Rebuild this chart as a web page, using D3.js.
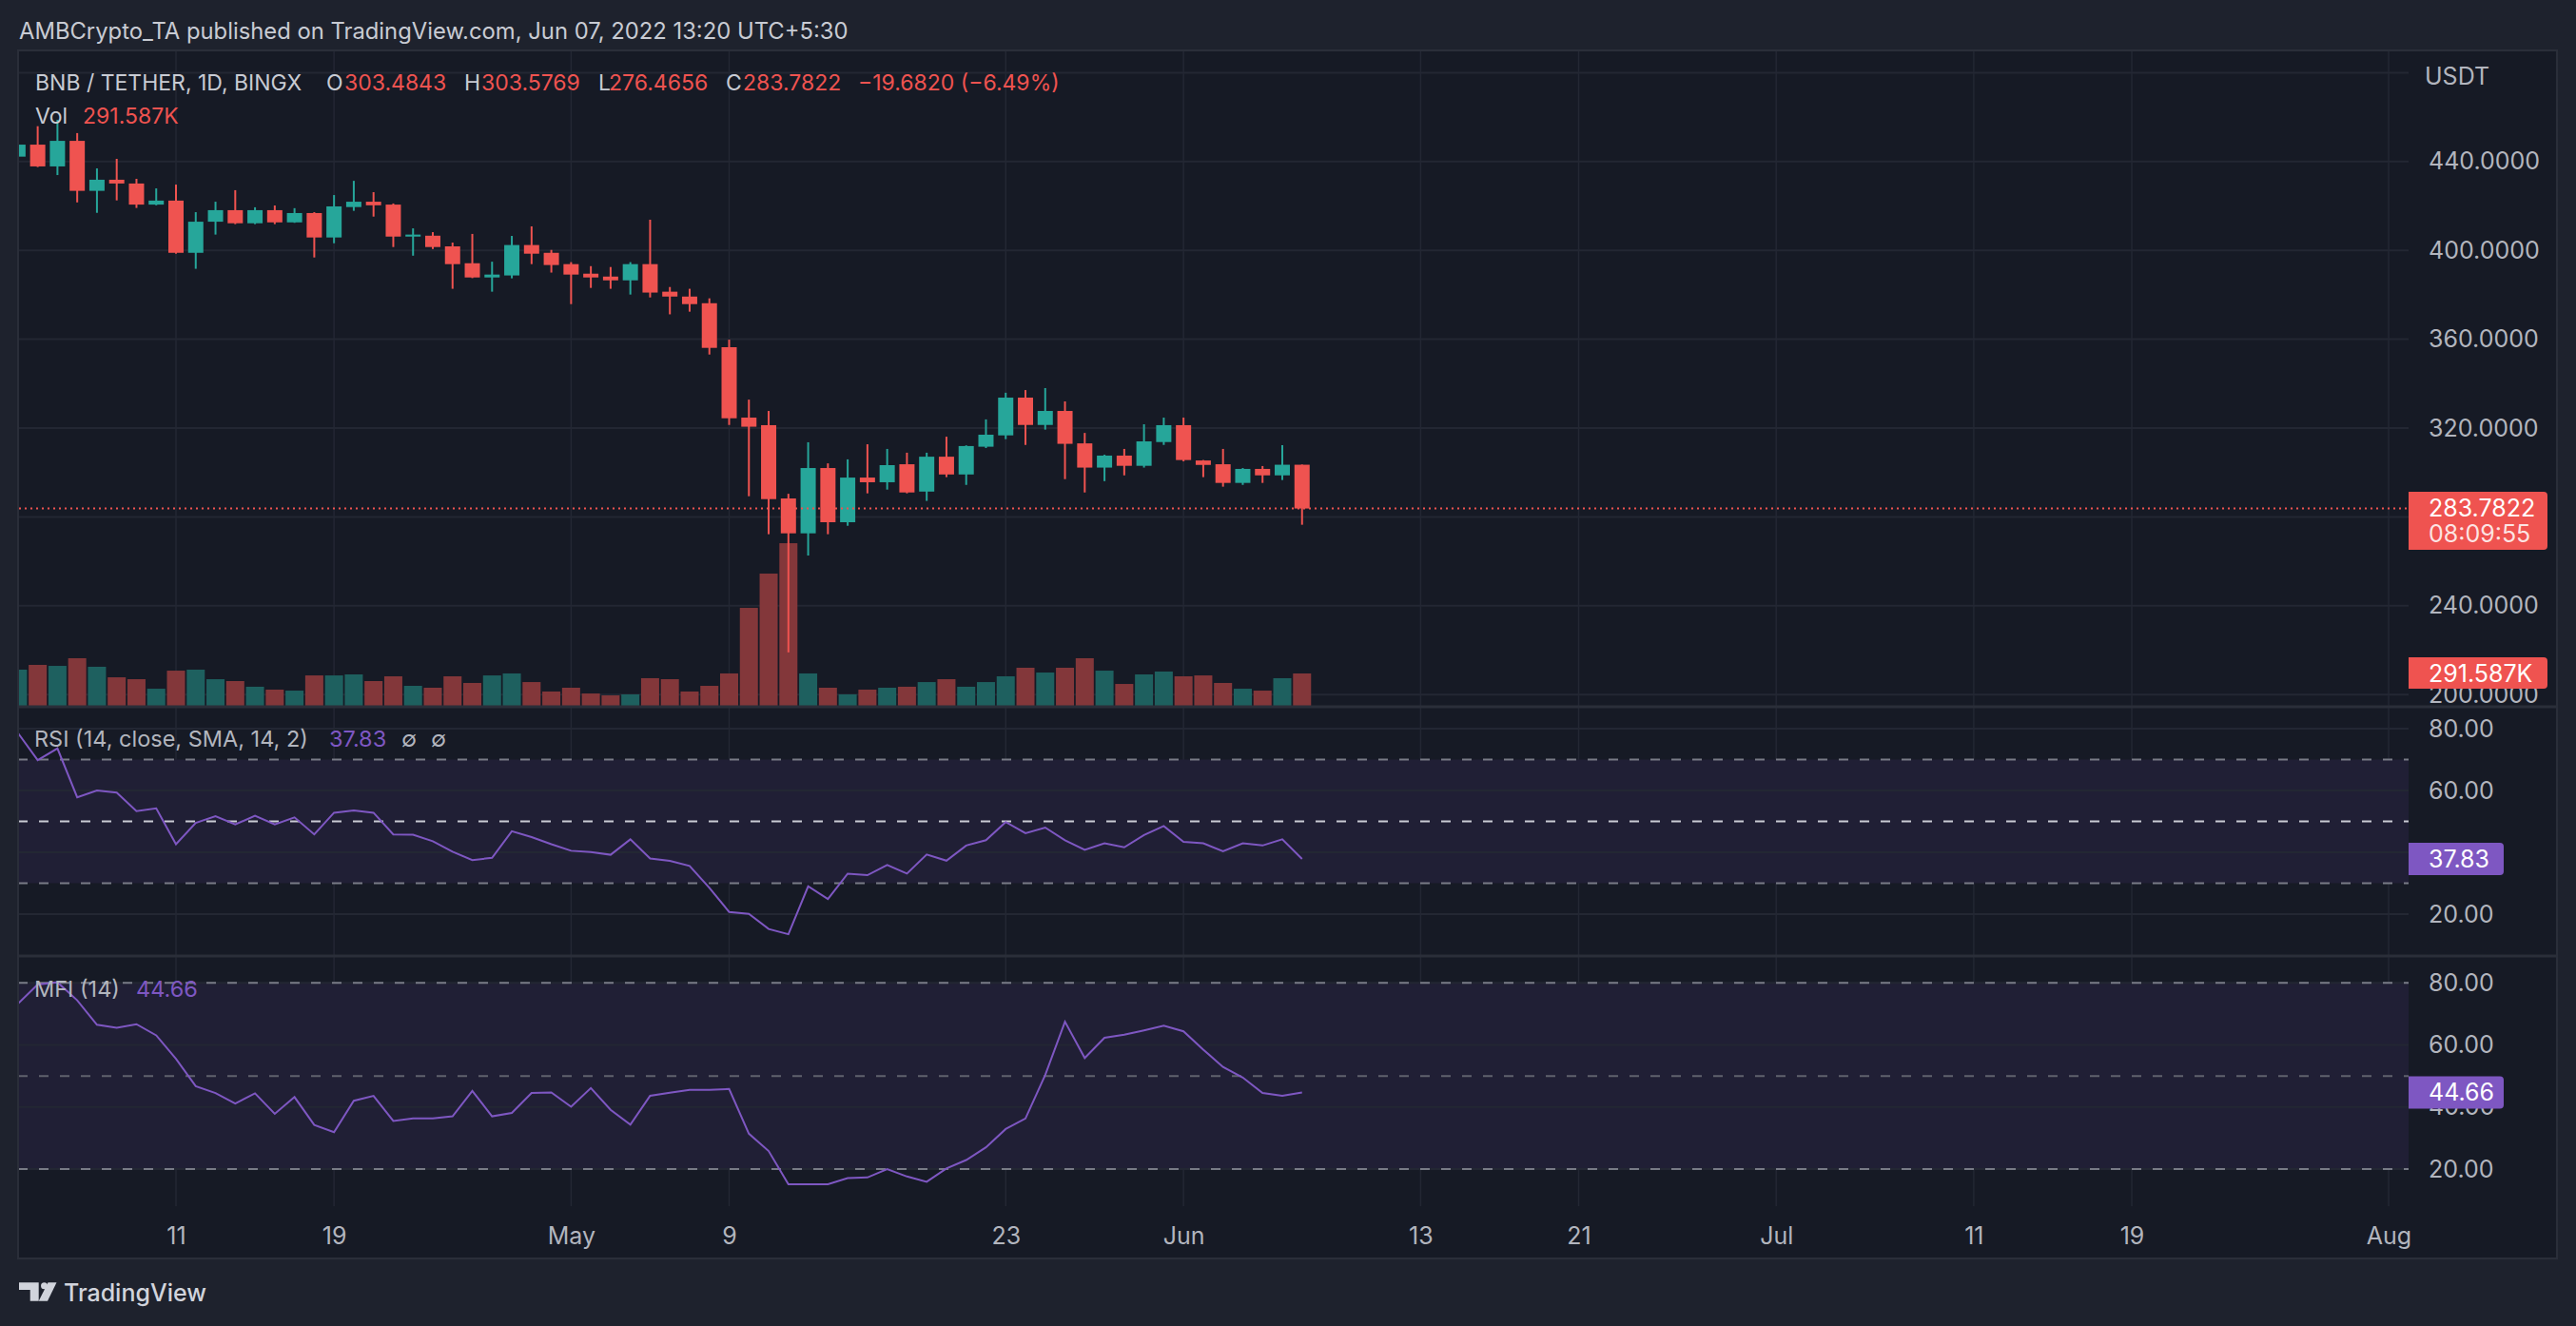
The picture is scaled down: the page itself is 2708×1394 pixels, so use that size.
<!DOCTYPE html>
<html><head><meta charset="utf-8">
<script src="https://cdn.jsdelivr.net/npm/d3@7"></script>
<style>html,body{margin:0;padding:0;background:#1e222d;overflow:hidden}svg text{font-family:Inter,"Noto Sans",sans-serif}</style>
</head><body><svg id="c" width="2708" height="1394"></svg>
<script>
// ---------- DATA ----------
const firstDay = "2022-04-03";
const open  = [442.2,447.6,437.8,449.3,426.8,431.8,430.1,420.6,422.4,398.9,412.9,418.1,412.2,418.1,412.6,416.8,405.8,419.5,421.9,420.6,406.2,406.6,401.8,394.2,387.8,388.7,402.4,398.9,393.8,389.5,388.2,386.5,393.8,381.4,379.2,376.2,356.4,324.7,321.3,288.3,272.6,302.0,277.6,297.7,295.6,303.7,291.4,307.1,299.1,311.6,316.7,333.7,321.4,327.7,313.1,302.2,307.6,303.0,313.7,321.3,305.4,303.7,295.3,301.6,298.7,303.4843];
const high  = [449.0,455.9,458.8,452.8,436.9,441.2,432.2,427.9,429.6,417.2,421.9,427.1,419.4,420.2,419.0,417.2,424.9,431.3,426.2,421.1,409.9,408.2,403.5,407.4,394.9,406.5,410.8,400.2,394.7,392.9,392.5,394.7,413.8,383.5,382.7,378.4,359.8,332.8,327.7,290.4,313.6,304.1,305.9,312.7,310.6,308.9,308.9,316.1,312.2,323.9,335.9,337.1,338.0,332.0,317.8,308.0,310.6,321.7,324.7,324.7,305.6,310.6,302.0,302.9,312.3,303.5769];
const low   = [440.5,437.5,433.9,421.6,416.9,422.5,419.1,420.3,398.5,391.7,407.1,411.8,411.8,411.8,412.4,396.8,403.2,417.8,415.2,401.5,397.6,400.6,382.7,387.5,381.4,387.4,393.8,390.0,375.8,383.1,382.7,380.1,378.8,371.2,372.4,353.1,321.4,289.3,272.2,219.0,262.6,272.2,276.0,290.6,292.3,290.6,287.2,297.9,294.4,311.0,315.0,312.4,319.3,297.0,291.0,296.1,298.7,302.2,312.4,305.0,297.9,293.6,294.4,295.3,296.6,276.4656];
const close = [447.6,437.8,449.3,426.8,431.8,430.1,420.6,422.4,398.9,412.9,418.1,412.2,418.1,412.6,416.8,405.8,419.8,421.9,420.3,406.2,407.1,401.5,393.8,387.8,389.1,402.4,398.5,393.4,389.1,387.8,386.5,393.8,381.0,379.2,375.8,356.1,324.4,320.6,288.0,272.6,302.0,277.6,297.7,295.6,303.3,291.0,307.1,299.1,311.9,317.0,333.7,321.4,327.7,312.9,302.2,307.6,303.0,314.0,321.3,305.6,303.4,295.3,301.6,298.7,303.4843,283.7822];
// volume in thousands
const volume = [326,369,360,429,352,257,240,154,317,326,240,223,172,146,137,274,274,283,223,266,180,163,266,206,274,292,214,129,163,111,94,103,249,240,129,180,292,883,1192,1466,292,163,103,146,163,172,214,240,172,214,266,343,300,343,429,317,197,283,309,266,274,206,154,137,249,291.587];
const rsi = [78.6,69.8,73.6,57.8,60,59.3,53.3,54.2,42.6,49.5,51.7,49,51.8,49,51.3,45.8,52.8,53.5,52.8,45.8,45.7,43.6,40.2,37.5,38.2,46.8,44.9,42.6,40.5,40.1,39.2,44.2,38,37.2,35.6,28.5,20.7,20.1,15.2,13.5,29,24.9,33.1,32.6,35.9,33.1,39.3,37.3,42.2,43.9,49.8,46.2,48,43.9,40.8,42.9,41.6,45.6,48.5,43.4,42.9,40.3,42.9,42.2,44.2,37.83];
const mfi = [73.3,79.5,80.2,74.4,66.5,65.5,66.7,63.1,55.5,46.7,44.5,41.1,44.4,37.8,43.2,34.2,31.9,42,43.6,35.5,36.3,36.3,37,45.2,37,38.1,44.5,44.7,40.1,46.1,39.1,34.3,43.6,44.6,45.5,45.5,45.8,31.4,25.8,15.1,15.1,15.1,17.1,17.3,20,17.6,15.9,20.2,22.9,27,32.9,36.3,50.3,67.5,55.8,62.3,63.3,64.7,66.2,64.4,58.5,52.9,49.5,44.5,43.6,44.66];
const xTickDates  = ["2022-04-11","2022-04-19","2022-05-01","2022-05-09","2022-05-23","2022-06-01","2022-06-13","2022-06-21","2022-07-01","2022-07-11","2022-07-19","2022-08-01"];
const xTickLabels = ["11","19","May","9","23","Jun","13","21","Jul","11","19","Aug"];
const priceTicks = [200,240,280,320,360,400,440,480];
const priceLabels = [200,240,320,360,400,440];
const oscTicks = [20,40,60,80];
const rsiLabels = [20,60,80];
const mfiLabels = [20,40,60,80];
const rsiBands = [70,50,30];
const mfiBands = [80,50,20];

// ---------- SETUP ----------
const W=2708,H=1394;
const C={bg:"#1e222d",pane:"#161a25",grid:"#232733",sep:"#2a2e39",text:"#b2b5be",head:"#c8cbd3",up:"#26a69a",down:"#ef5350",upVol:"#1e605f",downVol:"#83373a",purple:"#7e57c2",band:"#201f35"};
const svg=d3.select("#c");
const parse=d3.utcParse("%Y-%m-%d");
const start=parse(firstDay);
const dates=close.map((_,i)=>d3.utcDay.offset(start,i));
const L=19,R=2688,AX=2532,T=53,B=1323;

const x=d3.scaleUtc().domain([parse("2022-04-11"),parse("2022-08-01")]).range([185,2511]);
const day=x(parse("2022-04-12"))-x(parse("2022-04-11"));
const y=d3.scaleLinear().domain([200,440]).range([730.2,169.8]);
const yv=d3.scaleLinear().domain([0,291.587]).range([742,708]);
const yr=d3.scaleLinear().domain([20,80]).range([961,766]);
const ym=d3.scaleLinear().domain([20,80]).range([1229,1033.3]);

svg.append("rect").attr("width",W).attr("height",H).attr("fill",C.bg);
svg.append("rect").attr("x",L).attr("y",T).attr("width",R-L).attr("height",B-T).attr("fill",C.pane);

const defs=svg.append("defs");
defs.append("clipPath").attr("id","plot").append("rect").attr("x",20).attr("y",T).attr("width",AX-20).attr("height",1268-T);

// ---------- GRID ----------
const grid=svg.append("g");
grid.selectAll("line.v").data(xTickDates.map(parse)).join("line")
  .attr("x1",d=>x(d)).attr("x2",d=>x(d)).attr("y1",T).attr("y2",1268)
  .attr("stroke",C.grid).attr("stroke-width",1.5);
grid.selectAll("line.hp").data(priceTicks).join("line")
  .attr("x1",L).attr("x2",AX).attr("y1",d=>y(d)).attr("y2",d=>y(d))
  .attr("stroke",C.grid).attr("stroke-width",2);

// RSI / MFI band fills
svg.append("rect").attr("x",L).attr("width",AX-L).attr("y",yr(70)).attr("height",yr(30)-yr(70)).attr("fill",C.band);
svg.append("rect").attr("x",L).attr("width",AX-L).attr("y",ym(80)).attr("height",ym(20)-ym(80)).attr("fill",C.band);
[yr,ym].forEach(s=>{
  svg.append("g").selectAll("line").data(oscTicks).join("line")
   .attr("x1",L).attr("x2",AX).attr("y1",d=>s(d)).attr("y2",d=>s(d))
   .attr("stroke",C.grid).attr("stroke-width",2);
});
svg.append("g").selectAll("line").data(rsiBands).join("line")
  .attr("x1",L).attr("x2",AX).attr("y1",d=>yr(d)).attr("y2",d=>yr(d))
  .attr("stroke",d=>d===50?"#c9cbd3":"#787b86").attr("stroke-width",2).attr("stroke-dasharray","10 12");
svg.append("g").selectAll("line").data(mfiBands).join("line")
  .attr("x1",L).attr("x2",AX).attr("y1",d=>ym(d)).attr("y2",d=>ym(d))
  .attr("stroke",d=>d===50?"#5f626d":"#787b86").attr("stroke-width",2).attr("stroke-dasharray","10 12");

// ---------- VOLUME + CANDLES ----------
const plot=svg.append("g").attr("clip-path","url(#plot)");
const idx=d3.range(close.length);
const up=i=>close[i]>=open[i];
const vw=day*0.915, bw=day*0.77;
plot.append("g").selectAll("rect").data(idx).join("rect")
  .attr("x",i=>x(dates[i])-vw/2).attr("width",vw)
  .attr("y",i=>yv(volume[i])).attr("height",i=>yv(0)-yv(volume[i]))
  .attr("fill",i=>up(i)?C.upVol:C.downVol);
plot.append("g").selectAll("rect").data(idx).join("rect")
  .attr("x",i=>x(dates[i])-1).attr("width",2)
  .attr("y",i=>y(high[i])).attr("height",i=>y(low[i])-y(high[i]))
  .attr("fill",i=>up(i)?C.up:C.down);
plot.append("g").selectAll("rect").data(idx).join("rect")
  .attr("x",i=>x(dates[i])-bw/2).attr("width",bw)
  .attr("y",i=>y(Math.max(open[i],close[i])))
  .attr("height",i=>Math.max(2,Math.abs(y(open[i])-y(close[i]))))
  .attr("fill",i=>up(i)?C.up:C.down);
const last=close[close.length-1];
svg.append("line").attr("x1",20).attr("x2",AX).attr("y1",y(last)).attr("y2",y(last))
  .attr("stroke",C.down).attr("stroke-width",2).attr("stroke-dasharray","2 4");

// ---------- OSCILLATOR LINES ----------
plot.append("path").datum(idx).attr("fill","none").attr("stroke",C.purple).attr("stroke-width",2)
  .attr("d",d3.line().x(i=>x(dates[i])).y(i=>yr(rsi[i])));
plot.append("path").datum(idx).attr("fill","none").attr("stroke",C.purple).attr("stroke-width",2)
  .attr("d",d3.line().x(i=>x(dates[i])).y(i=>ym(mfi[i])));

// ---------- SEPARATORS / BORDERS ----------
[743,1005].forEach(v=>svg.append("line").attr("x1",L).attr("x2",R).attr("y1",v).attr("y2",v).attr("stroke",C.sep).attr("stroke-width",3));
svg.append("rect").attr("x",L).attr("y",T).attr("width",R-L).attr("height",B-T).attr("fill","none").attr("stroke",C.sep).attr("stroke-width",2);

// ---------- AXES ----------
const AF="25px";
const fmt4=d3.format(".4f"), fmt2=d3.format(".2f");
const pa=svg.append("g").attr("transform",`translate(${AX},0)`)
  .call(d3.axisRight(y).tickValues(priceLabels).tickSize(0).tickPadding(21).tickFormat(fmt4));
const ra=svg.append("g").attr("transform",`translate(${AX},0)`)
  .call(d3.axisRight(yr).tickValues(rsiLabels).tickSize(0).tickPadding(21).tickFormat(fmt2));
const ma=svg.append("g").attr("transform",`translate(${AX},0)`)
  .call(d3.axisRight(ym).tickValues(mfiLabels).tickSize(0).tickPadding(21).tickFormat(fmt2));
const xa=svg.append("g").attr("transform","translate(0,1268)")
  .call(d3.axisBottom(x).tickValues(xTickDates.map(parse)).tickSize(0).tickPadding(22).tickFormat((d,i)=>xTickLabels[i]));
[pa,ra,ma,xa].forEach(g=>{g.select(".domain").remove();
  g.selectAll("text").attr("fill",C.text).style("font-size",AF).style("font-family","Inter,sans-serif");});
svg.append("text").attr("x",2549).attr("y",80).attr("dy","0.35em").attr("fill",C.text).style("font-size",AF).text("USDT");

// ---------- VALUE BOXES ----------
function box(y0,h,w,fill){
  svg.append("path").attr("fill",fill)
   .attr("d",`M${AX},${y0}h${w-4}a4,4 0 0 1 4,4v${h-8}a4,4 0 0 1 -4,4h${-(w-4)}z`);
}
function bt(yp,str,op){svg.append("text").attr("x",2553).attr("y",yp).attr("dy","0.35em").attr("fill","#fff").attr("fill-opacity",op||1).style("font-size",AF).text(str);}
box(517,61,146,C.down);
bt(534,fmt4(last)); bt(561,"08:09:55",0.85);
box(691,33,146,C.down);
bt(yv(volume[volume.length-1]),"291.587K");
const lastRsi=rsi[rsi.length-1], lastMfi=mfi[mfi.length-1];
box(yr(lastRsi)-17,34,100,C.purple); bt(yr(lastRsi),fmt2(lastRsi));
box(ym(lastMfi)-17,34,100,C.purple); bt(ym(lastMfi),fmt2(lastMfi));

// ---------- LEGENDS ----------
function t(xp,yp,str,col,size){return svg.append("text").attr("x",xp).attr("y",yp).attr("dy","0.35em").attr("fill",col).style("font-size",(size||23)+"px").text(str);}
t(20,33,"AMBCrypto_TA published on TradingView.com, Jun 07, 2022 13:20 UTC+5:30",C.head,23.8);
const lg=[["BNB / TETHER, 1D, BINGX",37,C.head],["O",343,C.head],[fmt4(open[65]),362,C.down],["H",488,C.head],[fmt4(high[65]),506,C.down],
  ["L",629,C.head],[fmt4(low[65]),640,C.down],["C",763,C.head],[fmt4(last),781,C.down],["\u221219.6820 (\u22126.49%)",902,C.down]];
lg.forEach(d=>t(d[1],87,d[0],d[2]));
t(37,122,"Vol",C.head); t(87,122,"291.587K",C.down);
t(36,777,"RSI (14, close, SMA, 14, 2)",C.text,23.5); t(346,777,fmt2(lastRsi),C.purple,23.5);
t(422,777,"\u2205",C.text,23.5); t(453,777,"\u2205",C.text,23.5);
t(36,1040,"MFI (14)",C.text,23.5); t(143,1040,fmt2(lastMfi),C.purple,23.5);

// ---------- FOOTER LOGO ----------
const lg2=svg.append("g").attr("fill","#d1d4dc");
lg2.append("path").attr("d","M20,1348.3h20.7v19.4h-9v-11.7h-11.7z");
lg2.append("circle").attr("cx",46.5).attr("cy",1351.8).attr("r",3.5);
lg2.append("path").attr("d","M50.5,1348.3h9l-9.5,19.4h-9.3z");
svg.append("text").attr("x",67).attr("y",1359).attr("dy","0.35em").attr("fill","#d1d4dc").style("font-size","25px").style("font-weight","500").text("TradingView");
</script></body></html>
